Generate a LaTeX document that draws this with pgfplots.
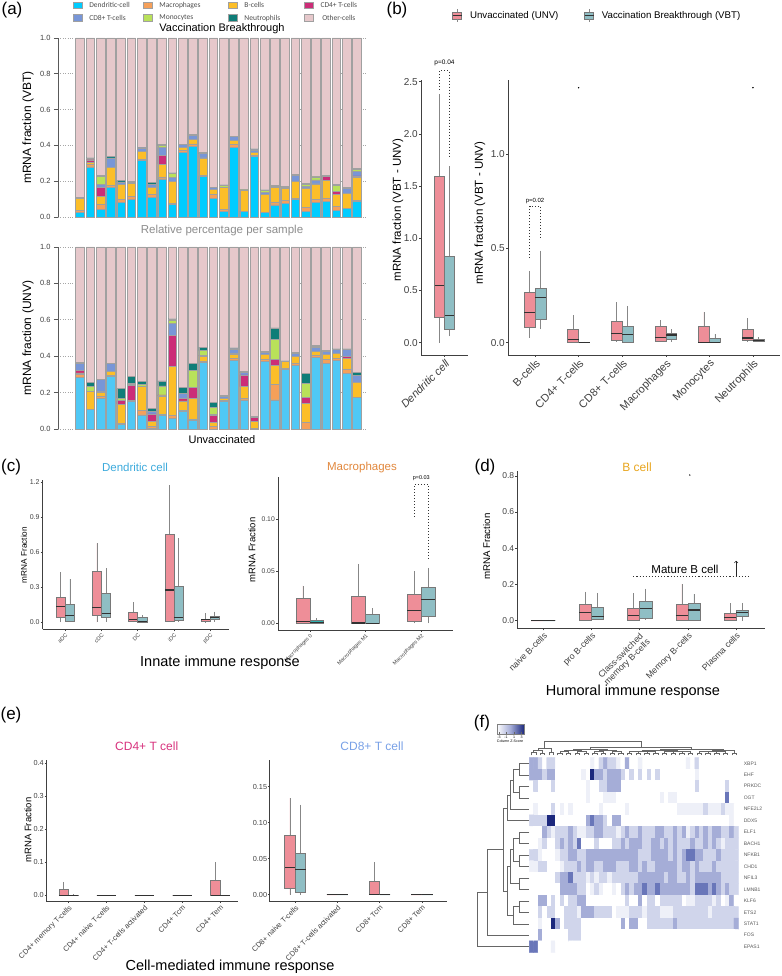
\documentclass[border=0pt]{standalone}
\usepackage{fontspec}
\setmainfont{Liberation Sans}
\newfontfamily\carl{Carlito}
\usepackage{pgfplots}
\pgfplotsset{compat=1.18}
\usepgfplotslibrary{statistics}
\usepackage{pgfplotstable}
\newcommand{\fsz}[1]{\fontsize{#1}{#1}\selectfont}
\definecolor{dcV}{RGB}{0,204,255}
\definecolor{dcU}{RGB}{80,200,245}
\definecolor{macc}{RGB}{245,160,90}
\definecolor{bcc}{RGB}{252,190,40}
\definecolor{cdf}{RGB}{204,45,120}
\definecolor{cde}{RGB}{120,150,215}
\definecolor{monc}{RGB}{185,225,90}
\definecolor{neuc}{RGB}{15,125,120}
\definecolor{othc}{RGB}{230,200,203}
\definecolor{barE}{RGB}{160,160,160}
\definecolor{pinkF}{RGB}{238,142,152}
\definecolor{tealF}{RGB}{143,190,196}
\definecolor{tealB}{RGB}{45,175,175}
\definecolor{boxE}{RGB}{120,120,120}
\definecolor{medC}{RGB}{50,50,50}
\definecolor{whiskC}{RGB}{135,135,135}
\definecolor{dcT}{RGB}{60,170,220}
\definecolor{macT}{RGB}{225,135,60}
\definecolor{bT}{RGB}{232,165,30}
\definecolor{cdfT}{RGB}{215,50,125}
\definecolor{cdeT}{RGB}{120,160,230}
\definecolor{navy}{RGB}{28,40,125}
\pgfplotsset{
  gg/.style={scale only axis, clip=false, axis lines=left,
    axis line style={-, black!75, line width=0.6pt}, tick align=outside,
    major tick length=2pt, tick style={black!75, line width=0.5pt},
    xticklabel style={rotate=45, anchor=north east, inner sep=1pt, text=black!75},
    yticklabel style={text=black!75, inner sep=1pt}},
  U/.style={fill=pinkF, draw=boxE, line width=0.5pt,
    /pgfplots/boxplot/draw direction=y,
    /pgfplots/boxplot/box extend=0.25, /pgfplots/boxplot/whisker extend=0,
    /pgfplots/boxplot/every median/.style={draw=medC, line width=1.1pt},
    /pgfplots/boxplot/every whisker/.style={draw=whiskC, line width=0.6pt}},
  V/.style={U, fill=tealF},
  dend/.style={black!60, line width=0.4pt, forget plot},
  pdot/.style={black!80, line width=1.1pt, dash pattern=on 1.1pt off 1.9pt}
}
\newcommand{\bxp}[7]{\addplot[#1, boxplot prepared={draw position=#2, lower whisker=#3, lower quartile=#4, median=#5, upper quartile=#6, upper whisker=#7}] coordinates {};}
\newcommand{\rd}[5]{\addplot[dend] coordinates {(#1,#2) (#5,#2) (#5,#4) (#3,#4)};}
\newcommand{\cd}[5]{\addplot[dend] coordinates {(#1,#2) (#1,#5) (#3,#5) (#3,#4)};}

\pgfplotstableread{
i dc mac b cd4 cd8 mono neut tot
1 0.025 0.010 0.068 0 0.003 0 0.004 1
2 0.280 0.012 0.015 0.012 0.004 0.002 0.005 1
3 0.040 0.030 0.046 0.050 0.018 0.043 0.007 1
4 0.167 0.007 0.104 0 0.052 0 0.007 1
5 0.080 0.018 0.083 0 0.015 0 0.007 1
6 0.096 0.017 0.076 0.005 0 0 0.007 1
7 0.317 0.007 0.040 0 0.022 0 0.004 1
8 0.107 0.017 0.040 0 0.018 0 0.010 1
9 0.213 0.011 0.072 0.046 0.046 0.011 0.007 1
10 0.070 0.006 0.124 0 0.019 0.024 0.003 1
11 0.361 0.011 0.018 0 0.013 0 0.004 1
12 0.395 0.013 0.025 0 0.022 0 0.005 1
13 0.228 0.004 0.098 0 0.024 0 0.005 1
14 0.104 0.022 0.026 0 0.011 0 0.004 1
15 0.033 0.009 0.124 0 0 0.009 0.004 1
16 0.389 0.015 0.022 0 0.022 0 0.004 1
17 0.033 0 0.115 0 0 0.003 0.003 1
18 0.337 0.007 0.018 0 0.013 0 0.005 1
19 0.024 0 0.102 0 0.009 0.013 0.003 1
20 0.067 0.017 0.080 0 0 0.007 0.007 1
21 0.076 0.017 0.065 0 0 0.009 0.004 1
22 0.098 0.006 0.096 0 0.033 0 0.003 1
23 0.033 0.022 0.107 0 0.009 0.013 0.004 1
24 0.081 0.015 0.089 0 0.022 0.017 0.004 1
25 0.089 0.015 0.102 0.022 0 0 0.002 1
26 0.037 0.024 0.065 0.015 0 0.035 0.007 1
27 0.046 0 0.087 0 0.026 0 0.005 1
28 0.085 0.009 0.128 0.007 0.026 0.013 0.004 1
}\vbt
\pgfplotstableread{
i dc mac b cd4 cd8 mono neut tot
1 0.284 0.018 0.006 0.013 0.037 0 0.009 1
2 0.108 0 0.097 0 0 0.031 0.018 1
3 0.169 0.013 0.018 0.006 0.068 0 0 1
4 0.288 0.006 0.022 0 0.042 0 0 1
5 0.026 0.006 0.105 0.018 0 0.015 0.051 1
6 0.150 0.009 0 0.079 0.006 0.008 0.037 1
7 0.077 0.026 0.130 0 0 0.013 0.015 1
8 0.003 0.010 0.030 0.040 0.015 0 0.013 1
9 0.077 0.005 0.100 0.005 0 0.050 0.027 1
10 0.060 0.015 0.270 0.170 0.065 0.015 0.010 1
11 0.099 0.005 0.050 0.015 0.027 0 0.031 1
12 0.050 0.005 0.115 0.060 0 0.090 0.040 1
13 0.365 0.007 0.028 0.006 0 0.024 0.020 1
14 0 0.015 0.020 0.040 0.005 0.040 0.027 1
15 0.150 0.005 0.013 0 0.009 0 0.009 1
16 0.378 0.012 0.020 0.005 0.025 0 0.005 1
17 0.160 0.009 0.064 0.064 0.013 0 0.005 1
18 0 0.004 0.038 0.020 0.008 0 0 1
19 0.372 0.013 0.025 0 0.013 0 0.005 1
20 0.160 0.085 0.105 0.030 0.003 0.107 0.065 1
21 0.325 0.009 0.037 0 0 0 0.003 1
22 0.350 0.013 0.035 0 0.017 0 0.005 1
23 0 0.035 0.105 0.035 0 0.075 0.055 1
24 0.393 0.012 0.020 0 0.025 0.005 0.005 1
25 0.358 0.022 0.031 0 0.015 0 0.005 1
26 0.376 0.013 0.028 0 0.018 0 0.005 1
27 0.303 0.027 0.059 0.009 0.037 0 0.005 1
28 0.172 0 0.083 0.003 0.037 0 0.015 1
}\unv

\begin{document}
\begin{tikzpicture}
\path[use as bounding box] (0,0) rectangle (781pt,976pt);

% ===== (a) top background
\begin{axis}[at={(58pt,759pt)}, anchor=south west, width=309pt, height=179pt, scale only axis, clip=false,
  xmin=-1.16, xmax=28.98, ymin=0, ymax=1, axis y line=left, axis x line=none,
  y axis line style={-, black!65, line width=0.7pt},
  ytick={0,0.2,0.4,0.6,0.8,1}, yticklabels={0.0,0.2,0.4,0.6,0.8,1.0},
  ymajorgrids, grid style={dotted, gray!70, line width=0.6pt},
  tick align=outside, major tick length=4pt, ytick style={black!65, line width=0.6pt},
  yticklabel style={font=\fsz{7.5}, text=black!75},
  ybar, bar width=8.6pt]
\addplot[fill=othc, draw=barE, line width=0.8pt] table[x=i,y=tot]{\vbt};
\end{axis}
\begin{axis}[at={(58pt,759pt)}, anchor=south west, width=309pt, height=179pt, scale only axis, clip=false,
  xmin=-1.16, xmax=28.98, ymin=0, ymax=1, hide axis, ybar stacked, bar width=8.6pt,
  legend image code/.code={\draw[#1, draw=barE, line width=0.6pt] (0pt,-3pt) rectangle (8.5pt,3.5pt);},
  legend columns=4,
  legend style={at={(0.0485,1.212)}, anchor=north west, draw=none, fill=none, inner sep=0pt,
    font=\carl\fsz{7.5}, text=black!70, row sep=2pt,
    /tikz/every odd column/.append style={column sep=5pt},
    /tikz/every even column/.append style={column sep=0pt}}]
\addplot[fill=dcV, draw=barE, line width=0.7pt] table[x=i,y=dc]{\vbt};
\addplot[fill=macc, draw=barE, line width=0.7pt] table[x=i,y=mac]{\vbt};
\addplot[fill=bcc, draw=barE, line width=0.7pt] table[x=i,y=b]{\vbt};
\addplot[fill=cdf, draw=barE, line width=0.7pt] table[x=i,y=cd4]{\vbt};
\addplot[fill=cde, draw=barE, line width=0.7pt] table[x=i,y=cd8]{\vbt};
\addplot[fill=monc, draw=barE, line width=0.7pt] table[x=i,y=mono]{\vbt};
\addplot[fill=neuc, draw=barE, line width=0.7pt] table[x=i,y=neut]{\vbt};
\addlegendimage{fill=othc}
\legend{\makebox[52pt][l]{Dendritic-cell}, \makebox[67pt][l]{Macrophages}, \makebox[58pt][l]{B-cells}, CD4+ T-cells, \makebox[52pt][l]{CD8+ T-cells}, \makebox[67pt][l]{Monocytes}, \makebox[58pt][l]{Neutrophils}, Other-cells}
\end{axis}

% ===== (a) bottom
\begin{axis}[at={(58pt,547pt)}, anchor=south west, width=309pt, height=182pt, scale only axis, clip=false,
  xmin=-1.16, xmax=28.98, ymin=0, ymax=1, axis y line=left, axis x line=none,
  y axis line style={-, black!65, line width=0.7pt},
  ytick={0,0.2,0.4,0.6,0.8,1}, yticklabels={0.0,0.2,0.4,0.6,0.8,1.0},
  ymajorgrids, grid style={dotted, gray!70, line width=0.6pt},
  tick align=outside, major tick length=4pt, ytick style={black!65, line width=0.6pt},
  yticklabel style={font=\fsz{7.5}, text=black!75},
  ybar, bar width=8.6pt]
\addplot[fill=othc, draw=barE, line width=0.8pt] table[x=i,y=tot]{\unv};
\end{axis}
\begin{axis}[at={(58pt,547pt)}, anchor=south west, width=309pt, height=182pt, scale only axis, clip=false,
  xmin=-1.16, xmax=28.98, ymin=0, ymax=1, hide axis, ybar stacked, bar width=8.6pt]
\addplot[fill=dcU, draw=barE, line width=0.7pt] table[x=i,y=dc]{\unv};
\addplot[fill=macc, draw=barE, line width=0.7pt] table[x=i,y=mac]{\unv};
\addplot[fill=bcc, draw=barE, line width=0.7pt] table[x=i,y=b]{\unv};
\addplot[fill=cdf, draw=barE, line width=0.7pt] table[x=i,y=cd4]{\unv};
\addplot[fill=cde, draw=barE, line width=0.7pt] table[x=i,y=cd8]{\unv};
\addplot[fill=monc, draw=barE, line width=0.7pt] table[x=i,y=mono]{\unv};
\addplot[fill=neuc, draw=barE, line width=0.7pt] table[x=i,y=neut]{\unv};
\end{axis}

% ===== (b) left
\begin{axis}[gg, at={(421pt,621pt)}, anchor=south west, width=47pt, height=275pt,
  xmin=0.4, xmax=1.6, ymin=-0.118, ymax=2.516, xtick={1}, xticklabels={\itshape Dendritic cell},
  ytick={0,0.5,1,1.5,2,2.5}, yticklabels={0.0,0.5,1.0,1.5,2.0,2.5},
  xticklabel style={font=\fsz{11}}, yticklabel style={font=\fsz{10}}]
\bxp{U}{0.875}{0}{0.24}{0.55}{1.59}{2.38}
\bxp{V}{1.125}{0.06}{0.13}{0.26}{0.83}{1.69}
\addplot[pdot] coordinates {(0.875,2.42) (0.875,2.605) (1.125,2.605) (1.125,1.78)};
\node[font=\fsz{6.5}] at (axis cs:1,2.68) {p=0.04};
\end{axis}

% ===== (b) right
\begin{axis}[gg, at={(508pt,621pt)}, anchor=south west, width=272pt, height=275pt,
  xmin=0.38, xmax=6.62, ymin=-0.065, ymax=1.394, xtick={1,2,3,4,5,6},
  xticklabels={B-cells, CD4+ T-cells, CD8+ T-cells, Macrophages, Monocytes, Neutrophils},
  ytick={0,0.5,1}, yticklabels={0.0,0.5,1.0},
  xticklabel style={font=\fsz{11}}, yticklabel style={font=\fsz{10}},
  legend columns=2,
  legend style={at={(-0.206,1.233)}, anchor=west, draw=none, fill=none, font=\fsz{9.7}, inner sep=0pt,
    /tikz/every odd column/.append style={column sep=6pt},
    /tikz/every even column/.append style={column sep=0pt}}]
\addlegendimage{legend image code/.code={\draw[fill=pinkF, draw=boxE, line width=0.5pt] (0pt,-3.5pt) rectangle (9pt,3.5pt); \draw[medC, line width=0.9pt] (0pt,0pt) -- (9pt,0pt); \draw[whiskC] (4.5pt,3.5pt) -- (4.5pt,6.5pt) (4.5pt,-3.5pt) -- (4.5pt,-6.5pt);}}
\addlegendentry{\makebox[112pt][l]{Unvaccinated (UNV)}}
\addlegendimage{legend image code/.code={\draw[fill=tealF, draw=boxE, line width=0.5pt] (0pt,-3.5pt) rectangle (9pt,3.5pt); \draw[medC, line width=0.9pt] (0pt,0pt) -- (9pt,0pt); \draw[whiskC] (4.5pt,3.5pt) -- (4.5pt,6.5pt) (4.5pt,-3.5pt) -- (4.5pt,-6.5pt);}}
\addlegendentry{Vaccination Breakthrough (VBT)}
\bxp{U}{0.875}{0.027}{0.082}{0.161}{0.268}{0.381}
\bxp{V}{1.125}{0.071}{0.126}{0.239}{0.289}{0.489}
\bxp{U}{1.875}{0}{0.004}{0.018}{0.071}{0.147}
\bxp{V}{2.125}{0}{0}{0.002}{0.004}{0.005}
\bxp{U}{2.875}{0.005}{0.014}{0.05}{0.113}{0.216}
\bxp{V}{3.125}{0}{0.005}{0.044}{0.085}{0.195}
\bxp{U}{3.875}{0.005}{0.009}{0.028}{0.089}{0.12}
\bxp{V}{4.125}{0.005}{0.018}{0.041}{0.05}{0.071}
\bxp{U}{4.875}{0}{0.002}{0.002}{0.085}{0.163}
\bxp{V}{5.125}{0}{0}{0.002}{0.023}{0.046}
\bxp{U}{5.875}{0.005}{0.014}{0.025}{0.073}{0.129}
\bxp{V}{6.125}{0.005}{0.007}{0.011}{0.02}{0.028}
\addplot[only marks, mark=*, mark size=0.5pt, black] coordinates {(2,1.353) (6,1.353)};
\addplot[pdot] coordinates {(0.875,0.449) (0.875,0.723) (1.125,0.723) (1.125,0.555)};
\node[font=\fsz{6}] at (axis cs:1,0.752) {p=0.02};
\end{axis}

% ===== (c) Dendritic cell
\begin{axis}[gg, at={(42.7pt,346.7pt)}, anchor=south west, width=186.3pt, height=149.3pt,
  xmin=0.376, xmax=5.52, ymin=-0.06, ymax=1.217, xtick={1,2,3,4,5},
  xticklabels={aDC,cDC,DC,iDC,pDC},
  ytick={0,0.3,0.6,0.9,1.2}, yticklabels={0.0,0.3,0.6,0.9,1.2},
  xticklabel style={font=\fsz{5.5}}, yticklabel style={font=\fsz{7}}]
\bxp{U}{0.875}{0}{0.043}{0.134}{0.214}{0.427}
\bxp{V}{1.125}{0.006}{0.011}{0.06}{0.157}{0.37}
\bxp{U}{1.875}{0}{0.057}{0.128}{0.436}{0.675}
\bxp{V}{2.125}{0.006}{0.04}{0.077}{0.248}{0.464}
\bxp{U}{2.875}{0}{0.011}{0.02}{0.085}{0.171}
\bxp{V}{3.125}{0}{0.003}{0.005}{0.043}{0.06}
\bxp{U}{3.875}{0.006}{0.011}{0.276}{0.752}{1.174}
\bxp{V}{4.125}{0.006}{0.02}{0.043}{0.305}{0.718}
\bxp{U}{4.875}{0}{0.006}{0.02}{0.028}{0.077}
\bxp{V}{5.125}{0.006}{0.026}{0.043}{0.054}{0.091}
\end{axis}

% ===== (c) Macrophages
\begin{axis}[gg, at={(278pt,346pt)}, anchor=south west, width=175pt, height=153.3pt,
  xmin=0.43, xmax=3.57, ymin=-0.0064, ymax=0.1404, xtick={1,2,3},
  xticklabels={Macrophages 0,Macrophages M1,Macrophages M2},
  ytick={0,0.05,0.1}, yticklabels={0.00,0.05,0.10},
  xticklabel style={font=\fsz{5.3}}, yticklabel style={font=\fsz{6.8}}]
\bxp{U}{0.875}{0}{0}{0.002}{0.024}{0.036}
\bxp{V, fill=tealB}{1.125}{0}{0}{0.0008}{0.003}{0.005}
\bxp{U}{1.875}{0}{0}{0.0003}{0.0256}{0.057}
\bxp{V}{2.125}{0}{0}{0}{0.009}{0.0144}
\bxp{U}{2.875}{0}{0.0016}{0.012}{0.028}{0.05}
\bxp{V}{3.125}{0}{0.0064}{0.023}{0.0345}{0.053}
\addplot[pdot] coordinates {(2.875,0.102) (2.875,0.133) (3.125,0.133) (3.125,0.0613)};
\node[font=\fsz{5.5}] at (axis cs:3,0.1388) {p=0.03};
\end{axis}

% ===== (d) B cell
\begin{axis}[gg, at={(517.3pt,347.7pt)}, anchor=south west, width=247.7pt, height=157.6pt,
  xmin=0.46, xmax=5.6, ymin=-0.042, ymax=0.828, xtick={1,2,3,4,5},
  xticklabels={naive B-cells, pro B-cells, {Class-switched\\memory B-cells}, Memory B-cells, Plasma cells},
  ytick={0,0.2,0.4,0.6,0.8}, yticklabels={0.0,0.2,0.4,0.6,0.8},
  xticklabel style={font=\fsz{8.8}, align=center}, yticklabel style={font=\fsz{8.5}}]
\bxp{U}{0.875}{0}{0}{0}{0}{0}
\bxp{V}{1.125}{0}{0}{0}{0}{0}
\bxp{U}{1.875}{0}{0}{0.044}{0.092}{0.16}
\bxp{V}{2.125}{0.004}{0.007}{0.024}{0.074}{0.153}
\bxp{U}{2.875}{0}{0}{0.029}{0.068}{0.151}
\bxp{V}{3.125}{0.004}{0.011}{0.066}{0.105}{0.177}
\bxp{U}{3.875}{0}{0}{0.029}{0.09}{0.202}
\bxp{V}{4.125}{0}{0}{0.059}{0.099}{0.147}
\bxp{U}{4.875}{0}{0}{0.02}{0.04}{0.096}
\bxp{V}{5.125}{0}{0.024}{0.046}{0.059}{0.099}
\addplot[only marks, mark=*, mark size=0.4pt, black] coordinates {(4.04,0.804)};
\addplot[black!80, line width=1pt, dash pattern=on 1.1pt off 2pt] coordinates {(2.867,0.246) (5.288,0.246)};
\addplot[->, black!85, line width=0.6pt] coordinates {(5.0,0.246) (5.0,0.33)};
\node[font=\fsz{11.5}] at (axis cs:3.94,0.282) {Mature B cell};
\end{axis}

% ===== (e) CD4
\begin{axis}[gg, at={(46pt,74.3pt)}, anchor=south west, width=192.3pt, height=141.7pt,
  xmin=0.41, xmax=5.48, ymin=-0.019, ymax=0.41, xtick={1,2,3,4,5},
  xticklabels={CD4+ memory T-cells, CD4+ naive T-cells, CD4+ T-cells activated, CD4+ Tcm, CD4+ Tem},
  ytick={0,0.1,0.2,0.3,0.4}, yticklabels={0.0,0.1,0.2,0.3,0.4}, major tick length=1.5pt,
  xticklabel style={font=\fsz{7.4}}, yticklabel style={font=\fsz{7.3}, inner sep=0.5pt}]
\bxp{U}{0.875}{0}{0}{0}{0.018}{0.041}
\bxp{V}{1.125}{0}{0}{0.001}{0.002}{0.003}
\bxp{U}{1.875}{0}{0}{0}{0}{0}
\bxp{V}{2.125}{0}{0}{0}{0}{0}
\bxp{U}{2.875}{0}{0}{0}{0}{0}
\bxp{V}{3.125}{0}{0}{0}{0}{0}
\bxp{U}{3.875}{0}{0}{0}{0}{0}
\bxp{V}{4.125}{0}{0}{0}{0}{0}
\bxp{U}{4.875}{0}{0}{0}{0.046}{0.101}
\bxp{V}{5.125}{0}{0}{0}{0}{0}
\end{axis}

% ===== (e) CD8
\begin{axis}[gg, at={(269.3pt,74.3pt)}, anchor=south west, width=178pt, height=141.7pt,
  xmin=0.39, xmax=4.6, ymin=-0.0097, ymax=0.187, xtick={1,2,3,4},
  xticklabels={CD8+ naive T-cells, CD8+ T-cells activated, CD8+ Tcm, CD8+ Tem}, major tick length=1.5pt,
  ytick={0,0.05,0.1,0.15}, yticklabels={0.00,0.05,0.10,0.15},
  xticklabel style={font=\fsz{7.4}}, yticklabel style={font=\fsz{7.3}, inner sep=0.5pt}]
\bxp{U}{0.875}{0}{0.0088}{0.038}{0.082}{0.134}
\bxp{V}{1.125}{0}{0.004}{0.035}{0.058}{0.125}
\bxp{U}{1.875}{0}{0}{0}{0}{0}
\bxp{V}{2.125}{0}{0}{0}{0}{0}
\bxp{U}{2.875}{0}{0}{0}{0.0185}{0.045}
\bxp{V}{3.125}{0}{0}{0}{0}{0}
\bxp{U}{3.875}{0}{0}{0}{0}{0}
\bxp{V}{4.125}{0}{0}{0}{0}{0}
\end{axis}

% ===== (f) heatmap
\begin{axis}[at={(529.3pt,23.6pt)}, anchor=south west, width=209pt, height=194.8pt, scale only axis, clip=false,
  xmin=-0.5, xmax=47.5, ymin=-0.5, ymax=16.5, y dir=reverse,
  axis line style={draw=none}, xtick=\empty, ytick={0,...,16},
  yticklabels={XBP1,EHF,PRKDC,OGT,NFE2L2,DDX5,ELF1,BACH1,NFKB1,CHD1,NFIL3,LMNB1,KLF6,ETS2,STAT1,FOS,EPAS1},
  yticklabel pos=right, major tick length=0pt, tick style={draw=none},
  yticklabel style={font=\fsz{5}, text=black!65, anchor=west, xshift=2pt},
  colormap={zs}{rgb255=(255,255,255) rgb255=(238,240,248) rgb255=(208,213,235) rgb255=(165,173,215) rgb255=(105,118,185) rgb255=(28,40,125)},
  point meta min=0, point meta max=5]
\addplot[matrix plot*, mesh/cols=48, point meta=explicit] table[meta=c, row sep=\\] {
x y c\\
0 0 3\\1 0 3\\2 0 2\\3 0 0\\4 0 2\\5 0 2\\6 0 0\\7 0 0\\8 0 0\\9 0 0\\10 0 0\\11 0 0\\12 0 0\\13 0 0\\14 0 1\\15 0 0\\16 0 2\\17 0 3\\18 0 2\\19 0 2\\20 0 1\\21 0 0\\22 0 3\\23 0 0\\24 0 0\\25 0 1\\26 0 0\\27 0 0\\28 0 0\\29 0 0\\30 0 0\\31 0 0\\32 0 0\\33 0 0\\34 0 0\\35 0 0\\36 0 1\\37 0 0\\38 0 2\\39 0 0\\40 0 0\\41 0 0\\42 0 0\\43 0 0\\44 0 0\\45 0 0\\46 0 0\\47 0 0\\
0 1 3\\1 1 3\\2 1 3\\3 1 2\\4 1 3\\5 1 3\\6 1 0\\7 1 0\\8 1 0\\9 1 0\\10 1 0\\11 1 0\\12 1 1\\13 1 0\\14 1 5\\15 1 3\\16 1 3\\17 1 2\\18 1 3\\19 1 3\\20 1 3\\21 1 2\\22 1 0\\23 1 2\\24 1 0\\25 1 2\\26 1 0\\27 1 2\\28 1 0\\29 1 2\\30 1 0\\31 1 0\\32 1 0\\33 1 0\\34 1 0\\35 1 0\\36 1 0\\37 1 0\\38 1 1\\39 1 0\\40 1 0\\41 1 0\\42 1 0\\43 1 0\\44 1 0\\45 1 0\\46 1 0\\47 1 0\\
0 2 0\\1 2 2\\2 2 0\\3 2 0\\4 2 0\\5 2 2\\6 2 0\\7 2 0\\8 2 0\\9 2 0\\10 2 0\\11 2 0\\12 2 0\\13 2 1\\14 2 0\\15 2 0\\16 2 2\\17 2 2\\18 2 3\\19 2 3\\20 2 3\\21 2 0\\22 2 0\\23 2 0\\24 2 0\\25 2 0\\26 2 0\\27 2 0\\28 2 0\\29 2 0\\30 2 0\\31 2 0\\32 2 0\\33 2 0\\34 2 0\\35 2 0\\36 2 0\\37 2 0\\38 2 2\\39 2 0\\40 2 0\\41 2 0\\42 2 0\\43 2 0\\44 2 0\\45 2 2\\46 2 0\\47 2 0\\
0 3 0\\1 3 0\\2 3 0\\3 3 0\\4 3 0\\5 3 0\\6 3 0\\7 3 0\\8 3 0\\9 3 0\\10 3 0\\11 3 0\\12 3 0\\13 3 1\\14 3 0\\15 3 0\\16 3 0\\17 3 1\\18 3 1\\19 3 1\\20 3 0\\21 3 0\\22 3 0\\23 3 0\\24 3 0\\25 3 0\\26 3 0\\27 3 0\\28 3 0\\29 3 0\\30 3 1\\31 3 0\\32 3 1\\33 3 1\\34 3 0\\35 3 0\\36 3 0\\37 3 0\\38 3 0\\39 3 0\\40 3 0\\41 3 0\\42 3 0\\43 3 0\\44 3 0\\45 3 4\\46 3 0\\47 3 0\\
0 4 0\\1 4 1\\2 4 0\\3 4 0\\4 4 0\\5 4 2\\6 4 0\\7 4 1\\8 4 0\\9 4 1\\10 4 0\\11 4 0\\12 4 0\\13 4 0\\14 4 0\\15 4 0\\16 4 1\\17 4 0\\18 4 0\\19 4 0\\20 4 0\\21 4 0\\22 4 1\\23 4 0\\24 4 0\\25 4 0\\26 4 0\\27 4 0\\28 4 0\\29 4 0\\30 4 0\\31 4 0\\32 4 0\\33 4 0\\34 4 1\\35 4 1\\36 4 1\\37 4 1\\38 4 1\\39 4 1\\40 4 2\\41 4 1\\42 4 1\\43 4 1\\44 4 2\\45 4 1\\46 4 1\\47 4 0\\
0 5 2\\1 5 2\\2 5 2\\3 5 2\\4 5 5\\5 5 5\\6 5 0\\7 5 0\\8 5 0\\9 5 0\\10 5 0\\11 5 0\\12 5 0\\13 5 3\\14 5 4\\15 5 3\\16 5 3\\17 5 2\\18 5 0\\19 5 3\\20 5 3\\21 5 0\\22 5 0\\23 5 0\\24 5 0\\25 5 0\\26 5 0\\27 5 0\\28 5 0\\29 5 0\\30 5 0\\31 5 0\\32 5 0\\33 5 0\\34 5 0\\35 5 0\\36 5 0\\37 5 0\\38 5 0\\39 5 0\\40 5 0\\41 5 0\\42 5 0\\43 5 0\\44 5 0\\45 5 0\\46 5 1\\47 5 0\\
0 6 0\\1 6 0\\2 6 0\\3 6 3\\4 6 2\\5 6 1\\6 6 2\\7 6 2\\8 6 2\\9 6 3\\10 6 2\\11 6 1\\12 6 1\\13 6 2\\14 6 2\\15 6 3\\16 6 3\\17 6 2\\18 6 2\\19 6 2\\20 6 1\\21 6 2\\22 6 3\\23 6 2\\24 6 2\\25 6 3\\26 6 2\\27 6 2\\28 6 2\\29 6 3\\30 6 3\\31 6 2\\32 6 2\\33 6 3\\34 6 2\\35 6 3\\36 6 1\\37 6 2\\38 6 3\\39 6 2\\40 6 3\\41 6 2\\42 6 3\\43 6 3\\44 6 2\\45 6 2\\46 6 3\\47 6 2\\
0 7 0\\1 7 0\\2 7 1\\3 7 2\\4 7 0\\5 7 0\\6 7 2\\7 7 3\\8 7 2\\9 7 3\\10 7 2\\11 7 4\\12 7 0\\13 7 0\\14 7 0\\15 7 2\\16 7 0\\17 7 0\\18 7 0\\19 7 2\\20 7 2\\21 7 3\\22 7 2\\23 7 3\\24 7 3\\25 7 3\\26 7 2\\27 7 2\\28 7 3\\29 7 3\\30 7 2\\31 7 3\\32 7 2\\33 7 3\\34 7 2\\35 7 2\\36 7 2\\37 7 3\\38 7 2\\39 7 2\\40 7 3\\41 7 2\\42 7 3\\43 7 2\\44 7 1\\45 7 2\\46 7 2\\47 7 2\\
0 8 2\\1 8 2\\2 8 1\\3 8 0\\4 8 0\\5 8 0\\6 8 1\\7 8 2\\8 8 2\\9 8 3\\10 8 3\\11 8 2\\12 8 2\\13 8 3\\14 8 3\\15 8 3\\16 8 3\\17 8 3\\18 8 3\\19 8 3\\20 8 3\\21 8 3\\22 8 3\\23 8 3\\24 8 3\\25 8 2\\26 8 2\\27 8 2\\28 8 3\\29 8 3\\30 8 3\\31 8 3\\32 8 2\\33 8 3\\34 8 2\\35 8 3\\36 8 4\\37 8 4\\38 8 3\\39 8 3\\40 8 2\\41 8 2\\42 8 2\\43 8 3\\44 8 2\\45 8 2\\46 8 2\\47 8 2\\
0 9 1\\1 9 1\\2 9 2\\3 9 2\\4 9 0\\5 9 0\\6 9 0\\7 9 1\\8 9 2\\9 9 2\\10 9 2\\11 9 3\\12 9 2\\13 9 3\\14 9 3\\15 9 2\\16 9 2\\17 9 3\\18 9 3\\19 9 3\\20 9 2\\21 9 2\\22 9 2\\23 9 3\\24 9 3\\25 9 2\\26 9 3\\27 9 2\\28 9 2\\29 9 3\\30 9 3\\31 9 3\\32 9 3\\33 9 3\\34 9 2\\35 9 3\\36 9 3\\37 9 2\\38 9 3\\39 9 2\\40 9 2\\41 9 2\\42 9 3\\43 9 2\\44 9 2\\45 9 2\\46 9 2\\47 9 2\\
0 10 0\\1 10 0\\2 10 0\\3 10 0\\4 10 0\\5 10 0\\6 10 2\\7 10 3\\8 10 3\\9 10 4\\10 10 2\\11 10 2\\12 10 2\\13 10 1\\14 10 2\\15 10 1\\16 10 2\\17 10 2\\18 10 1\\19 10 2\\20 10 2\\21 10 2\\22 10 2\\23 10 2\\24 10 2\\25 10 3\\26 10 3\\27 10 3\\28 10 3\\29 10 3\\30 10 3\\31 10 2\\32 10 3\\33 10 3\\34 10 2\\35 10 2\\36 10 3\\37 10 2\\38 10 3\\39 10 3\\40 10 3\\41 10 3\\42 10 3\\43 10 3\\44 10 2\\45 10 2\\46 10 2\\47 10 2\\
0 11 0\\1 11 0\\2 11 0\\3 11 0\\4 11 0\\5 11 0\\6 11 0\\7 11 3\\8 11 3\\9 11 3\\10 11 3\\11 11 2\\12 11 2\\13 11 0\\14 11 1\\15 11 2\\16 11 1\\17 11 0\\18 11 0\\19 11 1\\20 11 0\\21 11 2\\22 11 3\\23 11 2\\24 11 3\\25 11 3\\26 11 4\\27 11 3\\28 11 3\\29 11 4\\30 11 3\\31 11 3\\32 11 3\\33 11 3\\34 11 3\\35 11 3\\36 11 3\\37 11 2\\38 11 4\\39 11 4\\40 11 4\\41 11 3\\42 11 4\\43 11 3\\44 11 2\\45 11 3\\46 11 2\\47 11 2\\
0 12 0\\1 12 0\\2 12 3\\3 12 3\\4 12 0\\5 12 2\\6 12 0\\7 12 2\\8 12 0\\9 12 2\\10 12 2\\11 12 3\\12 12 3\\13 12 0\\14 12 0\\15 12 0\\16 12 0\\17 12 0\\18 12 0\\19 12 0\\20 12 0\\21 12 0\\22 12 2\\23 12 0\\24 12 0\\25 12 3\\26 12 0\\27 12 2\\28 12 2\\29 12 0\\30 12 2\\31 12 2\\32 12 2\\33 12 2\\34 12 2\\35 12 0\\36 12 1\\37 12 1\\38 12 2\\39 12 2\\40 12 2\\41 12 2\\42 12 1\\43 12 2\\44 12 0\\45 12 1\\46 12 3\\47 12 0\\
0 13 0\\1 13 0\\2 13 2\\3 13 0\\4 13 2\\5 13 2\\6 13 0\\7 13 0\\8 13 2\\9 13 2\\10 13 2\\11 13 1\\12 13 3\\13 13 3\\14 13 3\\15 13 2\\16 13 2\\17 13 2\\18 13 2\\19 13 0\\20 13 1\\21 13 1\\22 13 1\\23 13 2\\24 13 2\\25 13 2\\26 13 1\\27 13 2\\28 13 2\\29 13 2\\30 13 1\\31 13 1\\32 13 1\\33 13 2\\34 13 2\\35 13 2\\36 13 2\\37 13 2\\38 13 2\\39 13 2\\40 13 2\\41 13 1\\42 13 2\\43 13 2\\44 13 2\\45 13 2\\46 13 2\\47 13 2\\
0 14 0\\1 14 0\\2 14 1\\3 14 0\\4 14 0\\5 14 5\\6 14 3\\7 14 0\\8 14 2\\9 14 2\\10 14 2\\11 14 2\\12 14 0\\13 14 0\\14 14 0\\15 14 0\\16 14 0\\17 14 0\\18 14 0\\19 14 0\\20 14 0\\21 14 3\\22 14 0\\23 14 3\\24 14 3\\25 14 0\\26 14 0\\27 14 2\\28 14 2\\29 14 2\\30 14 2\\31 14 2\\32 14 2\\33 14 3\\34 14 2\\35 14 2\\36 14 2\\37 14 2\\38 14 2\\39 14 2\\40 14 2\\41 14 2\\42 14 2\\43 14 2\\44 14 2\\45 14 2\\46 14 2\\47 14 3\\
0 15 0\\1 15 0\\2 15 3\\3 15 0\\4 15 0\\5 15 0\\6 15 0\\7 15 0\\8 15 0\\9 15 2\\10 15 2\\11 15 2\\12 15 0\\13 15 0\\14 15 0\\15 15 0\\16 15 0\\17 15 0\\18 15 0\\19 15 0\\20 15 0\\21 15 0\\22 15 0\\23 15 0\\24 15 0\\25 15 0\\26 15 0\\27 15 0\\28 15 0\\29 15 0\\30 15 0\\31 15 0\\32 15 0\\33 15 0\\34 15 0\\35 15 0\\36 15 0\\37 15 0\\38 15 0\\39 15 0\\40 15 0\\41 15 0\\42 15 0\\43 15 0\\44 15 0\\45 15 0\\46 15 0\\47 15 0\\
0 16 4\\1 16 4\\2 16 0\\3 16 0\\4 16 0\\5 16 1\\6 16 0\\7 16 0\\8 16 0\\9 16 0\\10 16 0\\11 16 0\\12 16 0\\13 16 0\\14 16 0\\15 16 0\\16 16 0\\17 16 0\\18 16 0\\19 16 0\\20 16 0\\21 16 0\\22 16 0\\23 16 0\\24 16 0\\25 16 0\\26 16 0\\27 16 0\\28 16 0\\29 16 0\\30 16 0\\31 16 0\\32 16 0\\33 16 0\\34 16 0\\35 16 0\\36 16 0\\37 16 0\\38 16 0\\39 16 0\\40 16 0\\41 16 0\\42 16 0\\43 16 0\\44 16 0\\45 16 0\\46 16 0\\47 16 0\\
};
% row dendrogram
\rd{-0.5}{0}{-0.5}{1}{-2.87}
\rd{-0.5}{2}{-0.5}{3}{-2.87}
\rd{-2.87}{0.5}{-2.87}{2.5}{-4.17}
\rd{-4.17}{1.5}{-0.5}{4}{-4.93}
\rd{-4.93}{2.75}{-0.5}{5}{-5.5}
\rd{-0.5}{6}{-0.5}{7}{-2.87}
\rd{-0.5}{8}{-0.5}{9}{-2.87}
\rd{-2.87}{6.5}{-2.87}{8.5}{-4.17}
\rd{-0.5}{10}{-0.5}{11}{-2.87}
\rd{-4.17}{7.5}{-2.87}{10.5}{-4.93}
\rd{-0.5}{12}{-0.5}{13}{-2.87}
\rd{-2.87}{12.5}{-0.5}{14}{-4.17}
\rd{-4.93}{9}{-4.17}{13.25}{-5.5}
\rd{-5.5}{3.875}{-5.5}{11.125}{-6.6}
\rd{-6.6}{7.5}{-0.5}{15}{-10.28}
\rd{-10.28}{11.25}{-0.5}{16}{-12.44}
% column dendrogram
\cd{0}{-0.7}{1}{-0.7}{-0.95}
\cd{2}{-0.7}{3}{-0.7}{-0.9}
\cd{4}{-0.7}{5}{-0.7}{-0.95}
\cd{0.5}{-0.95}{2.5}{-0.9}{-1.15}
\cd{1.5}{-1.15}{4.5}{-0.95}{-1.35}
\cd{6}{-0.7}{7}{-0.7}{-0.9}
\cd{8}{-0.7}{9}{-0.7}{-0.9}
\cd{10}{-0.7}{11}{-0.7}{-0.9}
\cd{12}{-0.7}{13}{-0.7}{-0.9}
\cd{14}{-0.7}{15}{-0.7}{-0.9}
\cd{16}{-0.7}{17}{-0.7}{-0.9}
\cd{18}{-0.7}{19}{-0.7}{-0.9}
\cd{20}{-0.7}{21}{-0.7}{-0.9}
\cd{22}{-0.7}{23}{-0.7}{-0.9}
\cd{24}{-0.7}{25}{-0.7}{-0.9}
\cd{26}{-0.7}{27}{-0.7}{-0.9}
\cd{28}{-0.7}{29}{-0.7}{-0.9}
\cd{30}{-0.7}{31}{-0.7}{-0.9}
\cd{32}{-0.7}{33}{-0.7}{-0.9}
\cd{34}{-0.7}{35}{-0.7}{-0.9}
\cd{36}{-0.7}{37}{-0.7}{-0.9}
\cd{38}{-0.7}{39}{-0.7}{-0.9}
\cd{40}{-0.7}{41}{-0.7}{-0.9}
\cd{42}{-0.7}{43}{-0.7}{-0.9}
\cd{44}{-0.7}{45}{-0.7}{-0.9}
\cd{46}{-0.7}{47}{-0.7}{-0.9}
\cd{6.5}{-0.9}{8.5}{-0.9}{-1.02}
\cd{10.5}{-0.9}{12.5}{-0.9}{-1.02}
\cd{14.5}{-0.9}{16.5}{-0.9}{-1.02}
\cd{18.5}{-0.9}{20.5}{-0.9}{-1.02}
\cd{22.5}{-0.9}{24.5}{-0.9}{-1.02}
\cd{26.5}{-0.9}{28.5}{-0.9}{-1.02}
\cd{30.5}{-0.9}{32.5}{-0.9}{-1.02}
\cd{34.5}{-0.9}{36.5}{-0.9}{-1.02}
\cd{38.5}{-0.9}{40.5}{-0.9}{-1.02}
\cd{42.5}{-0.9}{44.5}{-0.9}{-1.02}
\cd{7.5}{-1.02}{11.5}{-1.02}{-1.12}
\cd{15.5}{-1.02}{19.5}{-1.02}{-1.12}
\cd{9.5}{-1.12}{17.5}{-1.12}{-1.2}
\cd{23.5}{-1.02}{27.5}{-1.02}{-1.1}
\cd{31.5}{-1.02}{35.5}{-1.02}{-1.1}
\cd{39.5}{-1.02}{43.5}{-1.02}{-1.1}
\cd{41.5}{-1.1}{46.5}{-0.9}{-1.16}
\cd{25.5}{-1.1}{33.5}{-1.1}{-1.16}
\cd{29.5}{-1.16}{44}{-1.16}{-1.25}
\cd{13.5}{-1.2}{36.75}{-1.25}{-1.45}
\cd{3}{-1.35}{25.125}{-1.45}{-1.97}
\end{axis}

% colour key of (f)
\shade[left color=white, right color=navy, middle color={rgb,255:red,165;green,173;blue,215}] (496.7pt,242pt) rectangle (524pt,251.5pt);
\draw[black!50, line width=0.2pt] (496.7pt,242pt) rectangle (524pt,251.5pt);
\foreach \xx/\tt in {499/-3, 506/-1, 514/1, 521.5/3} {
  \draw[black!60, line width=0.2pt] (\xx pt,242pt) -- (\xx pt,244pt);
  \node[font=\fsz{3.6}, inner sep=0pt] at (\xx pt,239pt) {\tt};
}
\node[font=\fsz{3.6}, inner sep=0pt] at (510pt,234.5pt) {Column Z-Score};

% ===== texts
\node[font=\fsz{17}] at (12pt,966pt) {(a)};
\node[font=\fsz{17}] at (397pt,966pt) {(b)};
\node[font=\fsz{17}] at (11pt,509pt) {(c)};
\node[font=\fsz{17}] at (485pt,509pt) {(d)};
\node[font=\fsz{17}] at (11pt,261pt) {(e)};
\node[font=\fsz{17}] at (482pt,253pt) {(f)};
\node[font=\fsz{11}] at (222pt,947pt) {Vaccination Breakthrough};
\node[font=\fsz{11.5}, text=black!45] at (222pt,745pt) {Relative percentage per sample};
\node[font=\fsz{11}] at (222pt,536pt) {Unvaccinated};
\node[rotate=90, font=\fsz{12}] at (28pt,848.5pt) {mRNA fraction (VBT)};
\node[rotate=90, font=\fsz{12}] at (28pt,638pt) {mRNA fraction (UNV)};
\node[rotate=90, font=\fsz{11.5}] at (398pt,766pt) {mRNA fraction (VBT - UNV)};
\node[rotate=90, font=\fsz{11.5}] at (480pt,763pt) {mRNA fraction (VBT - UNV)};
\node[font=\fsz{11.5}, text=dcT] at (135pt,508.3pt) {Dendritic cell};
\node[font=\fsz{11.5}, text=macT] at (362pt,508.3pt) {Macrophages};
\node[rotate=90, font=\fsz{8.2}] at (24pt,421pt) {mRNA Fraction};
\node[rotate=90, font=\fsz{9.5}] at (252pt,426pt) {mRNA Fraction};
\node[font=\fsz{14.5}] at (220pt,313pt) {Innate immune response};
\node[font=\fsz{12}, text=bT] at (637pt,509pt) {B cell};
\node[rotate=90, font=\fsz{9.7}] at (486.7pt,429.3pt) {mRNA Fraction};
\node[font=\fsz{14.5}] at (633pt,284pt) {Humoral immune response};
\node[font=\fsz{12}, text=cdfT] at (146.7pt,229.3pt) {CD4+ T cell};
\node[font=\fsz{12}, text=cdeT] at (372pt,229.3pt) {CD8+ T cell};
\node[rotate=90, font=\fsz{9.5}] at (28pt,146pt) {mRNA Fraction};
\node[font=\fsz{14.5}] at (230pt,9.3pt) {Cell-mediated immune response};
\end{tikzpicture}
\end{document}
